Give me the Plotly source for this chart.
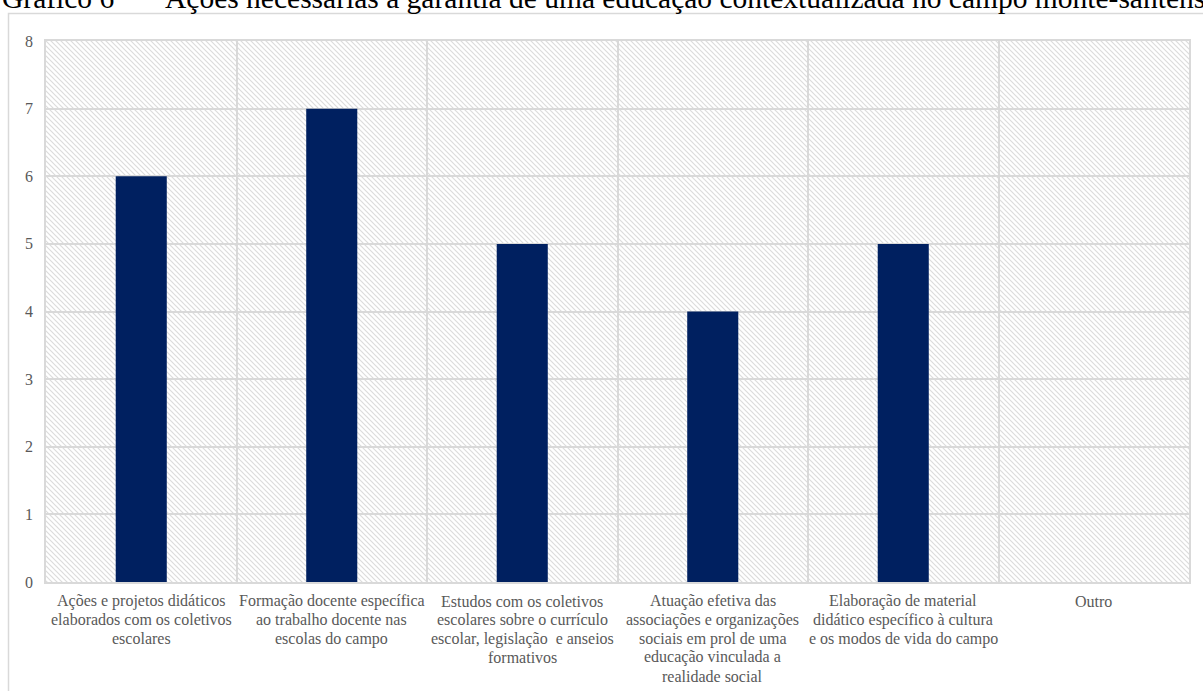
import base64
import plotly.graph_objects as go

# Survey answers: actions needed for a contextualised rural education
categories = [
    "Ações e projetos didáticos<br>elaborados com os coletivos<br>escolares",
    "Formação docente específica<br>ao trabalho docente nas<br>escolas do campo",
    "Estudos com os coletivos<br>escolares sobre o currículo<br>escolar, legislação\u00a0 e anseios<br>formativos",
    "Atuação efetiva das<br>associações e organizações<br>sociais em prol de uma<br>educação vinculada a<br>realidade social",
    "Elaboração de material<br>didático específico à cultura<br>e os modos de vida do campo",
    "Outro",
]
responses = [6, 7, 5, 4, 5, 0]
y_ticks = [0, 1, 2, 3, 4, 5, 6, 7, 8]

title_label = "Gráfico 6"
title_text = "Ações necessárias à garantia de uma educação contextualizada no campo monte-santense"

W, H = 1203, 691
ML, MR, MT, MB = 46, 14, 41, 109
PW, PH = W - ML - MR, H - MT - MB

GRID = "#D9D9D9"
LABEL = "#595959"
SERIF = "Liberation Serif, Times New Roman, serif"
LABEL_SIZE = 16
LINE_STEP = 18.75     # px between wrapped label lines
FIRST_LINE = 601      # px from top, centre of first label line


def px_x(p):
    return (p - ML) / PW


def px_y(p):
    return (H - MB - p) / PH


# diagonal hatch used as the plot-area fill
hatch_svg = (
    f"<svg xmlns='http://www.w3.org/2000/svg' width='{PW}' height='{PH}'>"
    "<defs><pattern id='h' width='5' height='5' patternUnits='userSpaceOnUse'>"
    "<path d='M-1,-1 L6,6 M-1,4 L1,6 M4,-1 L6,1' stroke='#DCDCDC' stroke-width='1.2'/>"
    "</pattern></defs><rect width='100%' height='100%' fill='url(#h)'/></svg>"
)
hatch_uri = "data:image/svg+xml;base64," + base64.b64encode(hatch_svg.encode()).decode()

fig = go.Figure(
    go.Bar(
        x=categories,
        y=responses,
        marker=dict(color="#002060", line=dict(width=0)),
        hoverinfo="y",
    )
)

# category labels, one text per wrapped line, placed on the category axis
label_notes = []
for cat in categories:
    for j, line in enumerate(cat.split("<br>")):
        label_notes.append(
            dict(
                text=line, xref="x", yref="paper",
                x=cat, y=px_y(FIRST_LINE + j * LINE_STEP),
                xanchor="center", yanchor="middle", showarrow=False,
                font=dict(family=SERIF, size=LABEL_SIZE, color=LABEL),
            )
        )

title_notes = [
    dict(
        text=title_label, xref="paper", yref="paper",
        x=px_x(0), y=px_y(16), xanchor="left", yanchor="bottom",
        showarrow=False, font=dict(family=SERIF, size=29.5, color="black"),
    ),
    dict(
        text=title_text, xref="paper", yref="paper",
        x=px_x(163), y=px_y(16), xanchor="left", yanchor="bottom",
        showarrow=False, font=dict(family=SERIF, size=29.5, color="black"),
    ),
]

fig.update_layout(
    width=W,
    height=H,
    margin=dict(l=ML, r=MR, t=MT, b=MB, pad=0, autoexpand=False),
    paper_bgcolor="white",
    plot_bgcolor="rgba(0,0,0,0)",
    bargap=0.732,
    showlegend=False,
    images=[
        dict(
            source=hatch_uri,
            xref="paper", yref="paper",
            x=0, y=1, sizex=1, sizey=1,
            xanchor="left", yanchor="top",
            sizing="stretch", layer="below",
        )
    ],
    shapes=[
        dict(
            type="rect", xref="paper", yref="paper",
            x0=px_x(8.5), x1=px_x(W + 20), y0=px_y(H + 20), y1=px_y(13.5),
            line=dict(color=GRID, width=1.5), fillcolor="rgba(0,0,0,0)",
        )
    ],
    annotations=title_notes + label_notes,
)

fig.update_xaxes(
    type="category",
    tickson="boundaries",
    showgrid=True, gridcolor=GRID, gridwidth=1.5,
    showline=True, linecolor=GRID, linewidth=1.5, mirror=True,
    ticks="", showticklabels=False, automargin=False,
    fixedrange=True,
)
fig.update_yaxes(
    range=[0, 8],
    tickvals=y_ticks,
    showgrid=True, gridcolor=GRID, gridwidth=1.5,
    showline=True, linecolor=GRID, linewidth=1.5, mirror=True,
    zeroline=False, automargin=False,
    ticks="", ticklabelstandoff=8,
    tickfont=dict(family=SERIF, size=LABEL_SIZE, color=LABEL),
    fixedrange=True,
)

fig.write_html("out.html")
